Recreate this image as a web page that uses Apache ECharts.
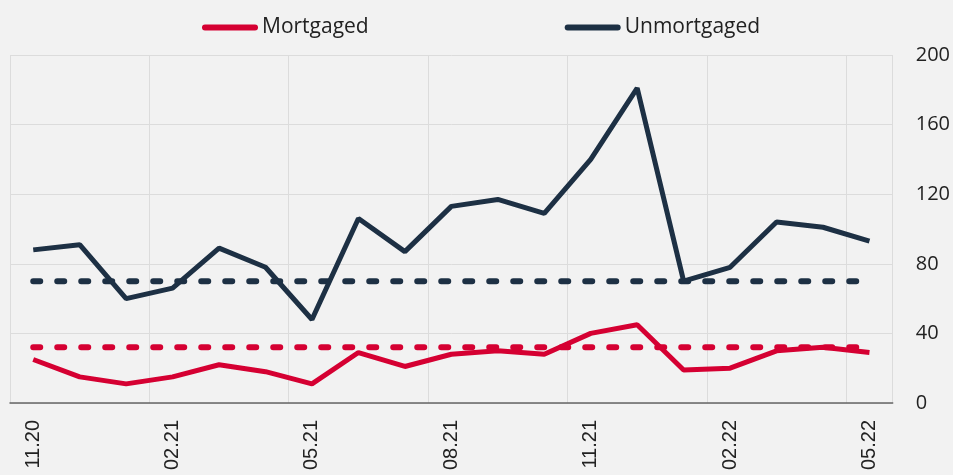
<!DOCTYPE html>
<html>
<head>
<meta charset="utf-8">
<script src="https://cdn.jsdelivr.net/npm/echarts@6/dist/echarts.min.js"></script>
<style>
  html, body { margin: 0; padding: 0; background: #f2f2f2; }
  #chart { width: 953px; height: 475px; }
</style>
</head>
<body>
<div id="chart"></div>
<script>
// months on the x axis
const months = ['11.20', '12.20', '01.21', '02.21', '03.21', '04.21', '05.21', '06.21', '07.21',
  '08.21', '09.21', '10.21', '11.21', '12.21', '01.22', '02.22', '03.22', '04.22', '05.22'];
const mortgaged = [25, 15, 11, 15, 22, 18, 11, 29, 21, 28, 30, 28, 40, 45, 19, 20, 30, 32, 29];
const unmortgaged = [88, 91, 60, 66, 89, 78, 48, 106, 87, 113, 117, 109, 140, 181, 70, 78, 104, 101, 93];
// dashed reference levels
const mortgagedRef = 32;
const unmortgagedRef = 70;
const yTicks = [0, 40, 80, 120, 160, 200];

const RED = '#d50032';
const NAVY = '#1d3044';

const chart = echarts.init(document.getElementById('chart'));

chart.setOption({
  backgroundColor: '#f2f2f2',
  animation: false,
  textStyle: { fontFamily: 'Open Sans' },
  legend: {
    data: ['Mortgaged', 'Unmortgaged'],
    left: 197,
    top: 12,
    itemWidth: 56,
    itemHeight: 6,
    itemGap: 196,
    icon: 'path://M3,0 L53,0 A3,3 0 0 1 53,6 L3,6 A3,3 0 0 1 3,0 Z',
    textStyle: { fontSize: 21, color: '#222', padding: [0, 0, 0, -1] }
  },
  grid: { left: 10, right: 60, top: 55, bottom: 72 },
  xAxis: {
    type: 'category',
    data: months,
    boundaryGap: true,
    axisLine: { lineStyle: { color: '#666', width: 1.5 } },
    axisTick: { show: false },
    axisLabel: {
      interval: 2,
      rotate: 90,
      margin: 17,
      fontSize: 20,
      fontFamily: 'Liberation Sans',
      color: '#222'
    },
    splitLine: { show: true, interval: 2, lineStyle: { color: '#dcdcdc', width: 1 } }
  },
  yAxis: {
    type: 'value',
    position: 'right',
    min: yTicks[0],
    max: yTicks[yTicks.length - 1],
    interval: 40,
    axisLine: { show: false },
    axisTick: { show: false },
    axisLabel: { margin: 23, fontSize: 20, color: '#222' },
    splitLine: { lineStyle: { color: '#dcdcdc', width: 1 } }
  },
  series: [
    {
      name: 'Mortgaged',
      type: 'line',
      data: mortgaged,
      symbol: 'none',
      itemStyle: { color: RED },
      lineStyle: { color: RED, width: 5 },
      z: 3
    },
    {
      name: 'Unmortgaged',
      type: 'line',
      data: unmortgaged,
      symbol: 'none',
      itemStyle: { color: NAVY },
      lineStyle: { color: NAVY, width: 5 },
      z: 3
    },
    {
      name: 'Mortgaged ref',
      type: 'line',
      data: months.map(() => mortgagedRef),
      symbol: 'none',
      lineStyle: { color: RED, width: 6, type: [7, 17], cap: 'round' },
      z: 2
    },
    {
      name: 'Unmortgaged ref',
      type: 'line',
      data: months.map(() => unmortgagedRef),
      symbol: 'none',
      lineStyle: { color: NAVY, width: 6, type: [7, 17], cap: 'round' },
      z: 2
    }
  ]
});
</script>
</body>
</html>
